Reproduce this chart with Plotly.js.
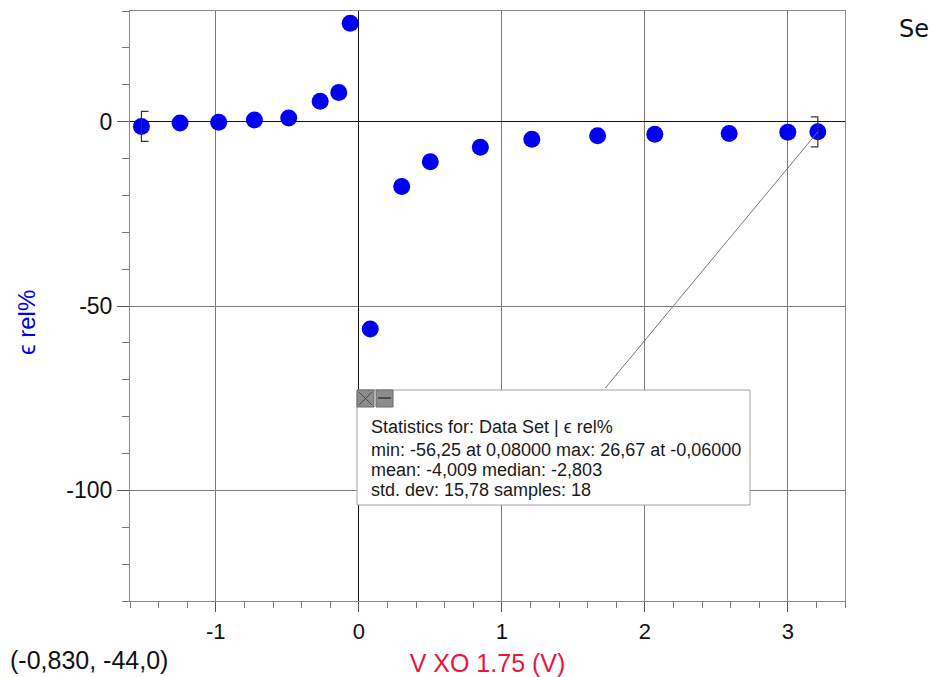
<!DOCTYPE html>
<html><head><meta charset="utf-8">
<script src="https://cdn.plot.ly/plotly-3.0.1.min.js"></script>
<style>html,body{margin:0;padding:0;background:#fff}#chart{width:936px;height:677px}</style>
</head><body><div id="chart"></div>
<script>
// Data
const voltage = [-1.52, -1.25, -0.98, -0.73, -0.49, -0.27, -0.14, -0.06, 0.08, 0.30, 0.50, 0.85, 1.21, 1.67, 2.07, 2.59, 3.00, 3.21];
const epsRel  = [-1.3, -0.35, -0.2, 0.45, 1.0, 5.5, 7.9, 26.67, -56.25, -17.6, -10.9, -6.97, -4.8, -3.8, -3.4, -3.2, -2.85, -2.76];
const xTickVals = [-1, 0, 1, 2, 3];
const xTickText = ["-1", "0", "1", "2", "3"];
const yTickVals = [0, -50, -100];
const yTickText = ["0", "-50", "-100"];
const xTitle = "V XO 1.75 (V)";
const yTitle = "\u03f5 rel%";
const statsLines = [
  "Statistics for: Data Set | \u03f5 rel%",
  "min: -56,25 at 0,08000 max: 26,67 at -0,06000",
  "mean: -4,009 median: -2,803",
  "std. dev: 15,78 samples: 18"
];
const cursorText = "(-0,830, -44,0)";
const legendStub = "Se";

const W = 936, H = 677;
const M = {l: 130, r: 91, t: 11, b: 76};
const PW = W - M.l - M.r, PH = H - M.t - M.b;
const px = x => (x - M.l) / PW;
const py = y => (H - M.b - y) / PH;

const FONT = "Liberation Sans, Arial, sans-serif";
const last = voltage.length - 1;

const trace = {
  x: voltage, y: epsRel, type: "scatter", mode: "markers",
  marker: {size: 17, color: "#0000f0"}, hoverinfo: "x+y"
};

const box = {x0: 357, x1: 750, y0: 390, y1: 505};

const shapes = [
  // selection brackets at first and last points
  {type: "path", xref: "x", yref: "y", xsizemode: "pixel", ysizemode: "pixel",
   xanchor: voltage[0], yanchor: epsRel[0],
   path: "M 7 15 L 0 15 L 0 -15 L 7 -15", line: {color: "#333", width: 1.2}},
  {type: "path", xref: "x", yref: "y", xsizemode: "pixel", ysizemode: "pixel",
   xanchor: voltage[last], yanchor: epsRel[last],
   path: "M -7 15 L 0 15 L 0 -15 L -7 -15", line: {color: "#333", width: 1.2}},
  // statistics box
  {type: "rect", xref: "paper", yref: "paper", x0: px(box.x0), x1: px(box.x1), y0: py(box.y1), y1: py(box.y0),
   fillcolor: "#ffffff", line: {color: "#a0a0a0", width: 1}},
  // stats box icons
  {type: "rect", xref: "paper", yref: "paper", x0: px(357), x1: px(374), y0: py(407), y1: py(390),
   fillcolor: "#8c8c8c", line: {color: "#6a6a6a", width: 1}},
  {type: "line", xref: "paper", yref: "paper", x0: px(359), x1: px(372), y0: py(392), y1: py(405), line: {color: "#4a4a4a", width: 1}},
  {type: "line", xref: "paper", yref: "paper", x0: px(359), x1: px(372), y0: py(405), y1: py(392), line: {color: "#4a4a4a", width: 1}},
  {type: "rect", xref: "paper", yref: "paper", x0: px(376), x1: px(393), y0: py(407), y1: py(390),
   fillcolor: "#8c8c8c", line: {color: "#6a6a6a", width: 1}},
  {type: "line", xref: "paper", yref: "paper", x0: px(378), x1: px(391), y0: py(398), y1: py(398), line: {color: "#3a3a3a", width: 1.5}}
];

const lineY = [427, 450, 470, 490];
const annotations = [
  // leader line from the statistics box to the last selected point
  {x: voltage[last], y: epsRel[last], xref: "x", yref: "y",
   ax: 604 - 818, ay: box.y0 - 132, axref: "pixel", ayref: "pixel",
   showarrow: true, arrowhead: 0, arrowwidth: 1, arrowcolor: "#777", standoff: 0,
   text: " ", font: {size: 1}},
  // y axis title
  {xref: "paper", yref: "paper", x: px(26), y: py(323), xanchor: "center", yanchor: "middle",
   text: yTitle, textangle: -90, showarrow: false, font: {family: FONT, size: 24, color: "#0000f0"}}
];
statsLines.forEach((s, i) => annotations.push({
  xref: "paper", yref: "paper", x: px(369), y: py(lineY[i]), xanchor: "left", yanchor: "middle",
  text: s, showarrow: false, font: {family: FONT, size: 18, color: "#1a1a1a"}
}));
annotations.push(
  {xref: "paper", yref: "paper", x: px(8), y: py(660), xanchor: "left", yanchor: "middle",
   text: cursorText, showarrow: false, font: {family: FONT, size: 25, color: "#111"}},
  {xref: "paper", yref: "paper", x: px(897), y: py(29), xanchor: "left", yanchor: "middle",
   text: legendStub, showarrow: false, font: {family: "DejaVu Sans, sans-serif", size: 24, color: "#111"}}
);

const layout = {
  width: W, height: H, margin: M,
  paper_bgcolor: "#fff", plot_bgcolor: "#fff",
  showlegend: false,
  font: {family: FONT, color: "#111"},
  xaxis: {
    range: [-1.6, 3.4], tickmode: "array", tickvals: xTickVals, ticktext: xTickText,
    ticks: "outside", ticklen: 10, tickcolor: "#555", tickfont: {size: 22, color: "#111"},
    ticklabelstandoff: 1,
    showgrid: true, gridcolor: "#7a7a7a", gridwidth: 1,
    zeroline: true, zerolinecolor: "#111", zerolinewidth: 1,
    showline: true, linecolor: "#8a8a8a", linewidth: 1, mirror: true,
    minor: {tickmode: "linear", tick0: 0, dtick: 0.2, ticks: "outside", ticklen: 6, tickcolor: "#777", showgrid: false},
    title: {text: xTitle, font: {size: 25, color: "#e8163f"}, standoff: 11},
    automargin: false
  },
  yaxis: {
    range: [-130, 30], tickmode: "array", tickvals: yTickVals, ticktext: yTickText,
    ticks: "outside", ticklen: 12, tickcolor: "#555", tickfont: {size: 23, color: "#111"},
    showgrid: true, gridcolor: "#7a7a7a", gridwidth: 1,
    zeroline: true, zerolinecolor: "#111", zerolinewidth: 1,
    showline: true, linecolor: "#8a8a8a", linewidth: 1, mirror: true,
    minor: {tickmode: "linear", tick0: 0, dtick: 10, ticks: "outside", ticklen: 7, tickcolor: "#777", showgrid: false},
    automargin: false
  },
  shapes: shapes,
  annotations: annotations
};

Plotly.newPlot("chart", [trace], layout, {displayModeBar: false, responsive: false});
</script>
</body></html>
